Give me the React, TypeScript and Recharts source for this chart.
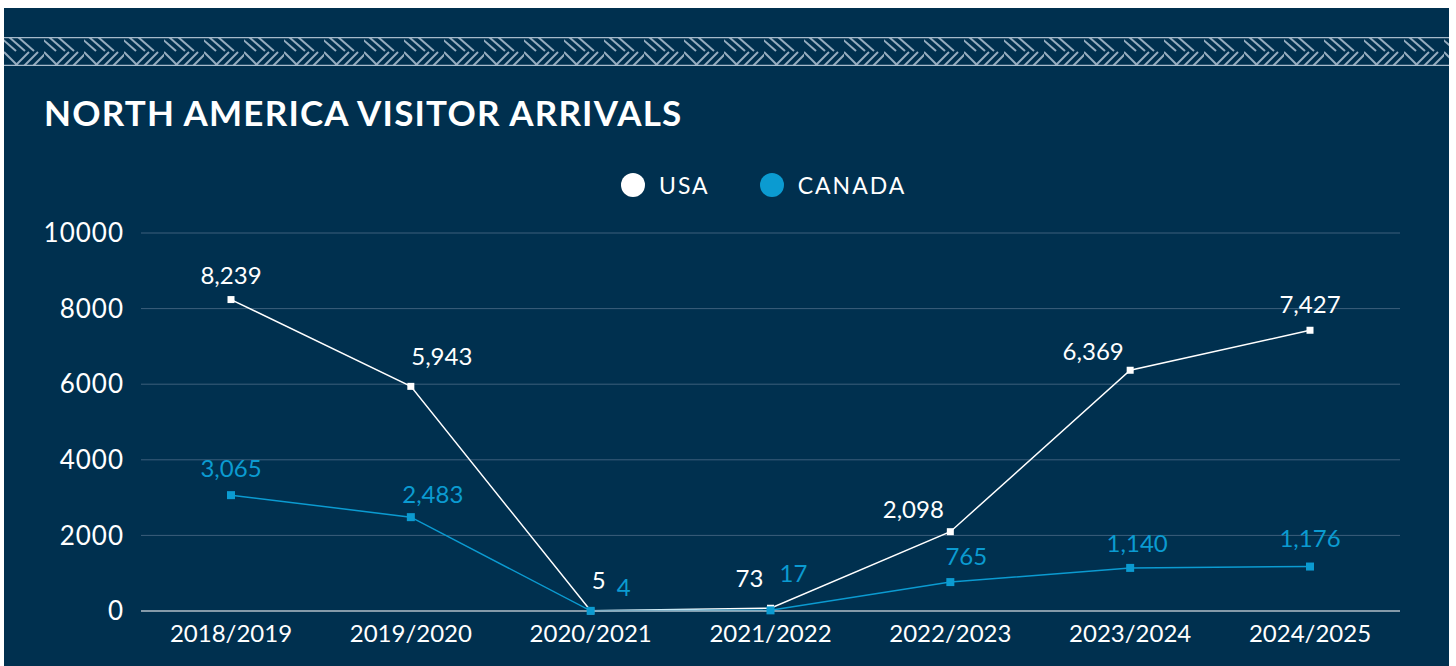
import React from 'react';
import { LineChart, Line, XAxis, YAxis, CartesianGrid, LabelList } from 'recharts';

const seasons = ['2018/2019', '2019/2020', '2020/2021', '2021/2022', '2022/2023', '2023/2024', '2024/2025'];
const usaArrivals = [8239, 5943, 5, 73, 2098, 6369, 7427];
const canadaArrivals = [3065, 2483, 4, 17, 765, 1140, 1176];
const yTicks = [0, 2000, 4000, 6000, 8000, 10000];

// label nudges (px) so the numbers sit where the original put them
const usaLabelShift = [[0, -25], [31, -31], [8, -31], [-21, -31], [-37, -23], [-37, -20], [0, -27]];
const canadaLabelShift = [[0, -28], [22, -24], [33, -24], [23, -38], [16, -27], [7, -25], [0, -29]];

const data = seasons.map((season, i) => ({
  season,
  usa: usaArrivals[i],
  canada: canadaArrivals[i],
}));

const BG = '#00304f';
const WHITE = '#ffffff';
const BLUE = '#0b9bd1';
const FONT = 'Lato, "Open Sans", sans-serif';

const squareDot = (color: string, size: number) => (props: any) => {
  const { cx, cy, index } = props;
  if (cx == null || cy == null) return null;
  return <rect key={index} x={cx - size / 2} y={cy - size / 2} width={size} height={size} fill={color} />;
};

const makeLabel = (color: string, shifts: number[][]) => (props: any) => {
  const { x, y, value, index } = props;
  const [dx, dy] = shifts[index] || [0, -26];
  return (
    <text
      x={x + dx}
      y={y + dy}
      fill={color}
      fontSize={24}
      fontFamily={FONT}
      textAnchor="middle"
      dominantBaseline="central"
    >
      {Number(value).toLocaleString('en-US')}
    </text>
  );
};

function WeaveBand() {
  return (
    <svg width={1445} height={29} style={{ position: 'absolute', left: 0, top: 29, display: 'block' }}>
      <defs>
        <pattern id="weave" width={40} height={29} patternUnits="userSpaceOnUse">
          <g stroke="#a7bacb" strokeWidth={2} fill="none">
            <line x1={-4} y1={0} x2={12} y2={14} />
            <line x1={5} y1={0} x2={21} y2={14} />
            <line x1={14} y1={0} x2={30} y2={14} />
            <line x1={20} y1={29} x2={34} y2={15} />
            <line x1={29} y1={29} x2={43} y2={15} />
            <line x1={11} y1={29} x2={25} y2={15} />
            <line x1={0} y1={15} x2={14} y2={29} />
          </g>
        </pattern>
      </defs>
      <rect x={0} y={0} width={1445} height={29} fill={BG} />
      <rect x={0} y={0} width={1445} height={29} fill="url(#weave)" opacity={0.9} />
      <line x1={0} y1={0.5} x2={1445} y2={0.5} stroke="#a7bacb" strokeWidth={1.5} />
      <line x1={0} y1={28.5} x2={1445} y2={28.5} stroke="#a7bacb" strokeWidth={1.5} />
    </svg>
  );
}

export default function App() {
  return (
    <div
      style={{
        position: 'absolute',
        left: 4,
        top: 8,
        width: 1445,
        height: 658,
        background: BG,
        overflow: 'hidden',
        fontFamily: FONT,
      }}
    >
      <WeaveBand />
      <div
        style={{
          position: 'absolute',
          left: 40,
          top: 84,
          color: WHITE,
          fontSize: 35,
          fontWeight: 700,
          letterSpacing: 1.2,
          lineHeight: '40px',
          whiteSpace: 'nowrap',
        }}
      >
        NORTH AMERICA VISITOR ARRIVALS
      </div>
      <div
        style={{
          position: 'absolute',
          top: 163,
          left: 617,
          display: 'flex',
          alignItems: 'center',
          color: WHITE,
          fontSize: 23,
          letterSpacing: 2,
          lineHeight: '28px',
        }}
      >
        <span style={{ width: 24, height: 24, borderRadius: 12, background: WHITE, marginRight: 14 }} />
        <span style={{ marginRight: 50 }}>USA</span>
        <span style={{ width: 24, height: 24, borderRadius: 12, background: BLUE, marginRight: 14 }} />
        <span>CANADA</span>
      </div>
      <div style={{ position: 'absolute', left: 0, top: 0 }}>
        <LineChart width={1445} height={658} data={data} margin={{ top: 225, right: 49, bottom: 15, left: 0 }}>
          <CartesianGrid vertical={false} stroke="#3c5f7c" strokeWidth={1} />
          <XAxis
            dataKey="season"
            padding={{ left: 90, right: 90 }}
            axisLine={{ stroke: '#a9b6c1', strokeWidth: 1.5 }}
            tickLine={false}
            tickSize={0}
            tickMargin={14}
            height={40}
            interval={0}
            tick={{ fill: WHITE, fontSize: 24, fontFamily: FONT }}
          />
          <YAxis
            domain={[0, 10000]}
            ticks={yTicks}
            width={137}
            axisLine={false}
            tickLine={false}
            tickSize={0}
            tickMargin={17}
            tick={{ fill: WHITE, fontSize: 26, fontFamily: FONT, letterSpacing: 1 }}
          />
          <Line
            dataKey="usa"
            stroke={WHITE}
            strokeWidth={1.5}
            dot={squareDot(WHITE, 7)}
            activeDot={false}
            isAnimationActive={false}
          >
            <LabelList dataKey="usa" content={makeLabel(WHITE, usaLabelShift)} />
          </Line>
          <Line
            dataKey="canada"
            stroke={BLUE}
            strokeWidth={1.5}
            dot={squareDot(BLUE, 8)}
            activeDot={false}
            isAnimationActive={false}
          >
            <LabelList dataKey="canada" content={makeLabel(BLUE, canadaLabelShift)} />
          </Line>
        </LineChart>
      </div>
    </div>
  );
}
